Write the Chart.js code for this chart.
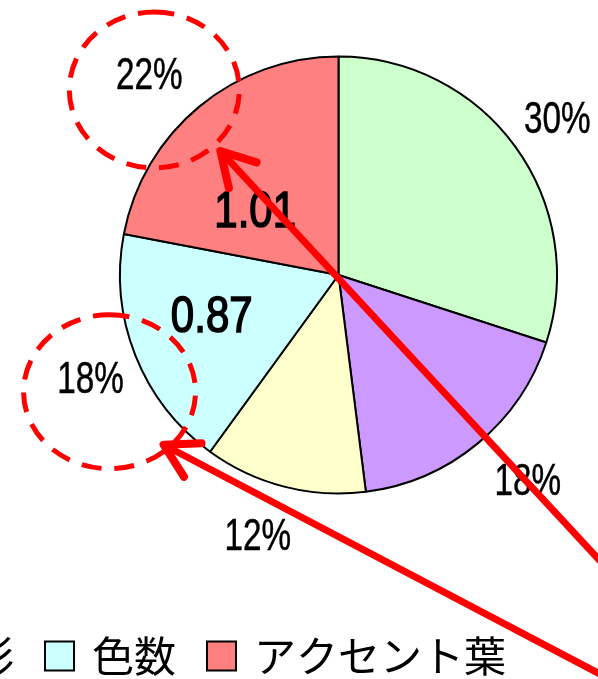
<!DOCTYPE html>
<html>
<head>
<meta charset="utf-8">
<script src="https://cdn.jsdelivr.net/npm/chart.js@4/dist/chart.umd.min.js"></script>
<style>
  html, body { margin: 0; padding: 0; background: #fff; overflow: hidden; }
  canvas { display: block; }
</style>
</head>
<body>
<canvas id="pie" width="598" height="679"></canvas>
<script>
// chart data
var categories = ['葉形', '質感', '色彩', '色数', 'アクセント葉'];
var shares = [30, 18, 12, 18, 22];
var sliceColors = ['#CCFFCC', '#CC99FF', '#FFFFCC', '#CCFFFF', '#FF8080'];
var valueTexts = [null, null, null, '0.87', '1.01'];
var circled = [false, false, false, true, true]; // slices whose % label is ringed in red

var labelFont = '45px "Liberation Sans", Arial, sans-serif';
var valueFont = '50px "Liberation Sans", Arial, sans-serif';
var legendFont = '42px "Noto Sans CJK JP", sans-serif';

function arcPoint(arc, angle, frac) {
    return {
        x: arc.x + Math.cos(angle) * arc.outerRadius * frac,
        y: arc.y + Math.sin(angle) * arc.outerRadius * frac
    };
}

// tall narrow text, like the gothic font of the source
function narrowText(ctx, text, x, y, sx, weight) {
    ctx.save();
    ctx.translate(x, y);
    ctx.scale(sx, 1);
    ctx.fillText(text, 0, 0);
    ctx.lineWidth = weight;
    ctx.strokeText(text, 0, 0);
    ctx.restore();
}

// where each % label sits: [angle shift in deg, fraction of radius]
var labelNudge = [[0.5, 1.23], [-3, 1.28], [2.8, 1.25], [-1.1, 1.23], [-3.8, 1.26]];

function labelPoint(arc, i) {
    var mid = (arc.startAngle + arc.endAngle) / 2 + labelNudge[i][0] * Math.PI / 180;
    return arcPoint(arc, mid, labelNudge[i][1]);
}

var labelPlugin = {
    id: 'sliceLabels',
    afterDatasetsDraw: function(chart) {
        var ctx = chart.ctx;
        var arcs = chart.getDatasetMeta(0).data;
        ctx.save();
        ctx.fillStyle = '#000';
        ctx.strokeStyle = '#000';
        ctx.textAlign = 'center';
        ctx.textBaseline = 'middle';
        ctx.font = labelFont;
        arcs.forEach(function(arc, i) {
            var p = labelPoint(arc, i);
            narrowText(ctx, shares[i] + '%', p.x, p.y + 2, 0.74, 0.5);
        });
        // hand placed value texts (deg from 12 o'clock, fraction of radius)
        var valuePos = { 3: [252, 0.61], 4: [307.4, 0.48] };
        ctx.font = valueFont;
        arcs.forEach(function(arc, i) {
            if (!valueTexts[i]) return;
            var a = (valuePos[i][0] - 90) * Math.PI / 180;
            var p = arcPoint(arc, a, valuePos[i][1]);
            narrowText(ctx, valueTexts[i], p.x, p.y + 2, 0.84, 1.6);
        });
        ctx.restore();
    }
};

// red dashed rings and arrows
var markupPlugin = {
    id: 'redMarkup',
    afterDraw: function(chart) {
        var ctx = chart.ctx;
        var arcs = chart.getDatasetMeta(0).data;
        // ring offset from label, radii, arrow tip offset from ring centre, arrow direction
        var ring = {
            3: { off: [19, 13], rx: 86, ry: 77, tip: [54, 53], dir: [434, 228] },
            4: { off: [5, 15], rx: 85, ry: 78, tip: [66, 61], dir: [377, 407] }
        };
        ctx.save();
        ctx.strokeStyle = '#FF0000';
        arcs.forEach(function(arc, i) {
            if (!circled[i]) return;
            var p = labelPoint(arc, i);
            var r = ring[i];
            var cx = p.x + r.off[0], cy = p.y + r.off[1];
            ctx.lineWidth = 5;
            ctx.lineCap = 'butt';
            ctx.setLineDash([20, 13]);
            ctx.beginPath();
            ctx.ellipse(cx, cy, r.rx, r.ry, 0, -Math.PI / 2, Math.PI * 1.5);
            ctx.stroke();

            // arrow coming in from the lower right, off the page
            var tip = { x: cx + r.tip[0], y: cy + r.tip[1] };
            var len = Math.hypot(r.dir[0], r.dir[1]);
            var ux = r.dir[0] / len, uy = r.dir[1] / len;
            ctx.setLineDash([]);
            ctx.lineWidth = 7;
            ctx.lineCap = 'round';
            ctx.lineJoin = 'round';
            ctx.beginPath();
            ctx.moveTo(tip.x + ux * 6, tip.y + uy * 6);
            ctx.lineTo(tip.x + ux * 900, tip.y + uy * 900);
            ctx.stroke();
            var head = 38, spread = 0.52;
            var base = Math.atan2(uy, ux);
            ctx.lineWidth = 8;
            ctx.beginPath();
            ctx.moveTo(tip.x + Math.cos(base + spread) * head, tip.y + Math.sin(base + spread) * head);
            ctx.lineTo(tip.x, tip.y);
            ctx.lineTo(tip.x + Math.cos(base - spread) * head, tip.y + Math.sin(base - spread) * head);
            ctx.stroke();
        });
        ctx.restore();
    }
};

// legend row, partly cut off at the left edge like the source crop
var legendPlugin = {
    id: 'cutLegend',
    afterDraw: function(chart) {
        var ctx = chart.ctx;
        var box = 29, gapText = 18, gapItem = 31;
        var y = 656;
        ctx.save();
        ctx.font = legendFont;
        var widths = categories.map(function(c) {
            return box + gapText + ctx.measureText(c).width + gapItem;
        });
        // anchor the 色数 item at x=45 and lay the others out from it
        var x = 45;
        for (var k = 0; k < 3; k++) x -= widths[k];
        ctx.textBaseline = 'middle';
        ctx.textAlign = 'left';
        categories.forEach(function(c, i) {
            ctx.fillStyle = sliceColors[i];
            ctx.fillRect(x, y - box / 2, box, box);
            ctx.strokeStyle = '#000';
            ctx.lineWidth = 2;
            ctx.strokeRect(x, y - box / 2, box, box);
            ctx.fillStyle = '#000';
            ctx.fillText(c, x + box + gapText, y);
            x += widths[i];
        });
        ctx.restore();
    }
};

new Chart(document.getElementById('pie'), {
    type: 'pie',
    data: {
        labels: categories,
        datasets: [{
            data: shares,
            backgroundColor: sliceColors,
            borderColor: '#000',
            borderWidth: 2
        }]
    },
    options: {
        responsive: false,
        animation: false,
        layout: { padding: { left: 119, right: 40, top: 55, bottom: 184 } },
        plugins: {
            legend: { display: false },
            tooltip: { enabled: false }
        }
    },
    plugins: [labelPlugin, markupPlugin, legendPlugin]
});
</script>
</body>
</html>
